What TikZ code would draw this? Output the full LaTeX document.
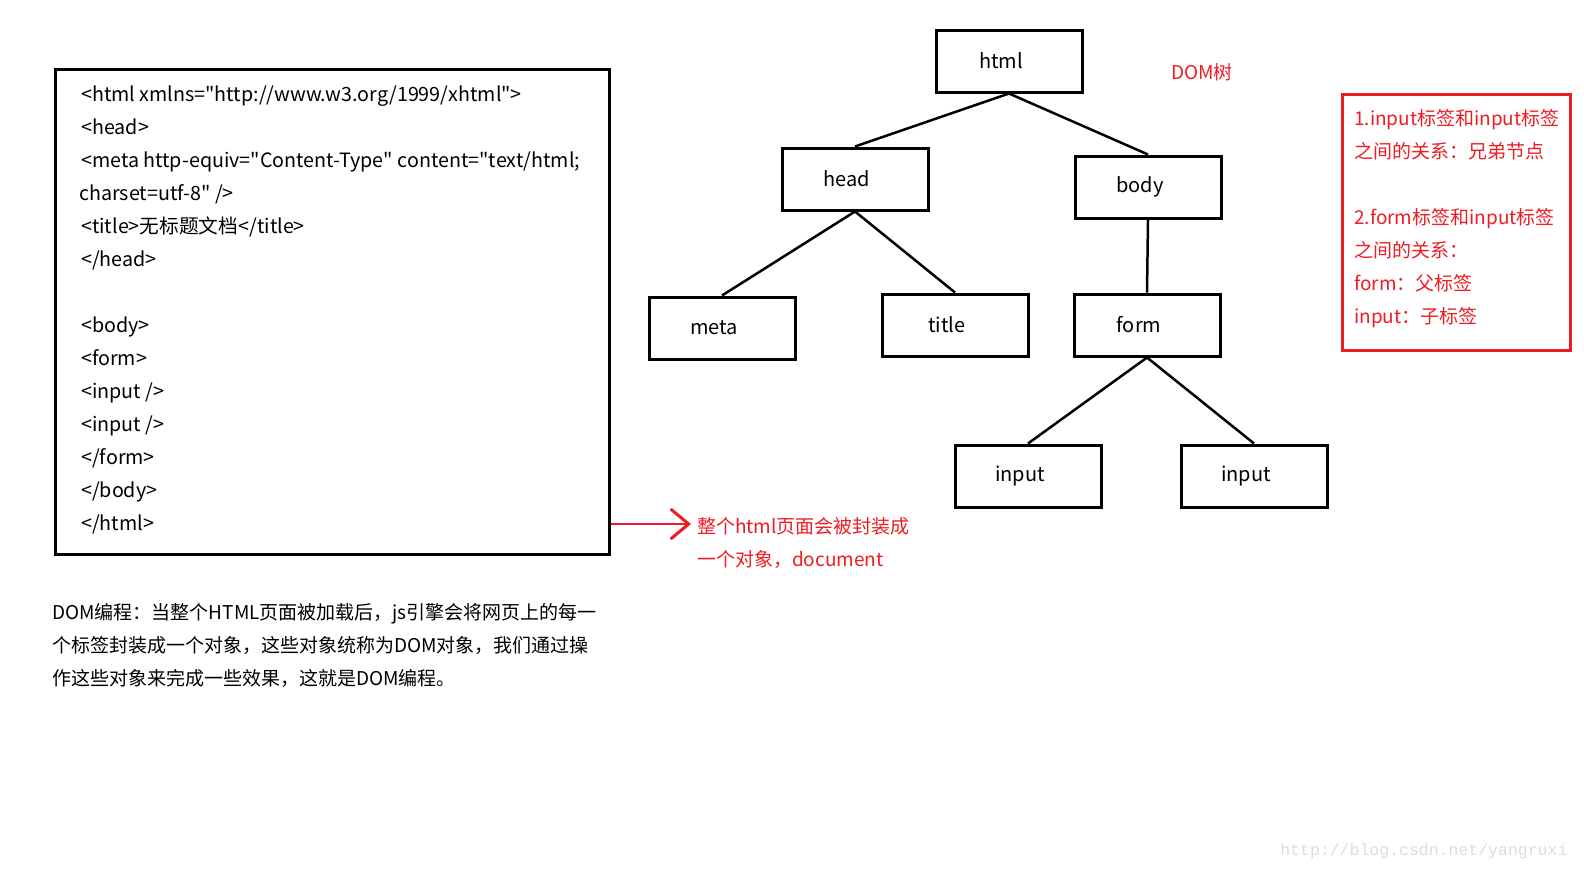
\documentclass[tikz,border=0pt]{standalone}
\usepackage{fontspec}
\setmainfont{Noto Sans CJK SC}[Ligatures=TeXOff]
\newfontfamily\markfont{Liberation Mono}
\usetikzlibrary{arrows.meta}
\definecolor{paintred}{RGB}{237,28,36}
\definecolor{markgray}{RGB}{222,220,214}

\begin{document}
\begin{tikzpicture}[
x=1pt, y=-1pt,
tagbox/.style={draw, line width=3pt, minimum width=146pt, minimum height=62pt, font=\fontsize{20}{24}\selectfont, execute at begin node={\hspace*{-16pt}}},
link/.style={line width=2.5pt},
textblock/.style={align=left, inner sep=0pt, anchor=north west, font=\fontsize{19}{33}\selectfont},
rednote/.style={textblock, text=paintred},
redarrow/.style={-{Straight Barb[length=18pt, width=30pt, line width=3pt]}, line width=2.5pt, paintred}
]
\useasboundingbox (0,0) rectangle (1584,871);

% source of the page
\node[draw, line width=3pt, minimum width=554pt, minimum height=485pt] (code) at (332.5,312) {};
\node[textblock, font=\fontsize{19.7}{33}\selectfont] (codetext) at (81,86) {<html xmlns="http://www.w3.org/1999/xhtml">\\
<head>\\
<meta http-equiv="Content-Type" content="text/html;\\
\hspace*{-2pt}charset=utf-8" />\\
<title>无标题文档</title>\\
</head>\\
\mbox{}\\
<body>\\
<form>\\
<input />\\
<input />\\
</form>\\
</body>\\
</html>};

% DOM tree
\node[tagbox] (html) at (1009,61) {html};
\node[tagbox] (head) at (855,179) {head};
\node[tagbox] (body) at (1148,187) {body};
\node[tagbox] (meta) at (722,328) {meta};
\node[tagbox] (title) at (955,325) {title};
\node[tagbox] (form) at (1147,325) {form};
\node[tagbox] (inputa) at (1028,476) {input};
\node[tagbox] (inputb) at (1254,476) {input};
\node[text=paintred, font=\fontsize{19}{24}\selectfont] (domtree) at (1202,72) {DOM树};

\draw[link] (html.south) -- (head.north);
\draw[link] (html.south) -- (body.north);
\draw[link] (head.south) -- (meta.north);
\draw[link] (head.south) -- (title.north);
\draw[link] (body.south) -- (form.north);
\draw[link] (form.south) -- (inputa.north);
\draw[link] (form.south) -- (inputb.north);

% relations
\node[draw=paintred, line width=3pt, minimum width=228pt, minimum height=256pt] (relbox) at (1456,222) {};
\node[rednote] (reltext) at (1354,109) {1.input标签和input标签\\
之间的关系：兄弟节点\\
\mbox{}\\
2.form标签和input标签\\
之间的关系：\\
form：父标签\\
input：子标签};

% document object
\coordinate (tip) at (691,524);
\node[rednote] (doctext) at (697,517) {整个html页面会被封装成\\
一个对象，document};
\draw[redarrow] (code.east |- tip) -- (tip);

\node[textblock] (dompara) at (52,603) {DOM编程：当整个HTML页面被加载后，js引擎会将网页上的每一\\
个标签封装成一个对象，这些对象统称为DOM对象，我们通过操\\
作这些对象来完成一些效果，这就是DOM编程。};

\node[text=markgray, font=\markfont\fontsize{16.5}{20}\selectfont, anchor=base east] (mark) at (1571,855) {http://blog.csdn.net/yangruxi};
\end{tikzpicture}
\end{document}
